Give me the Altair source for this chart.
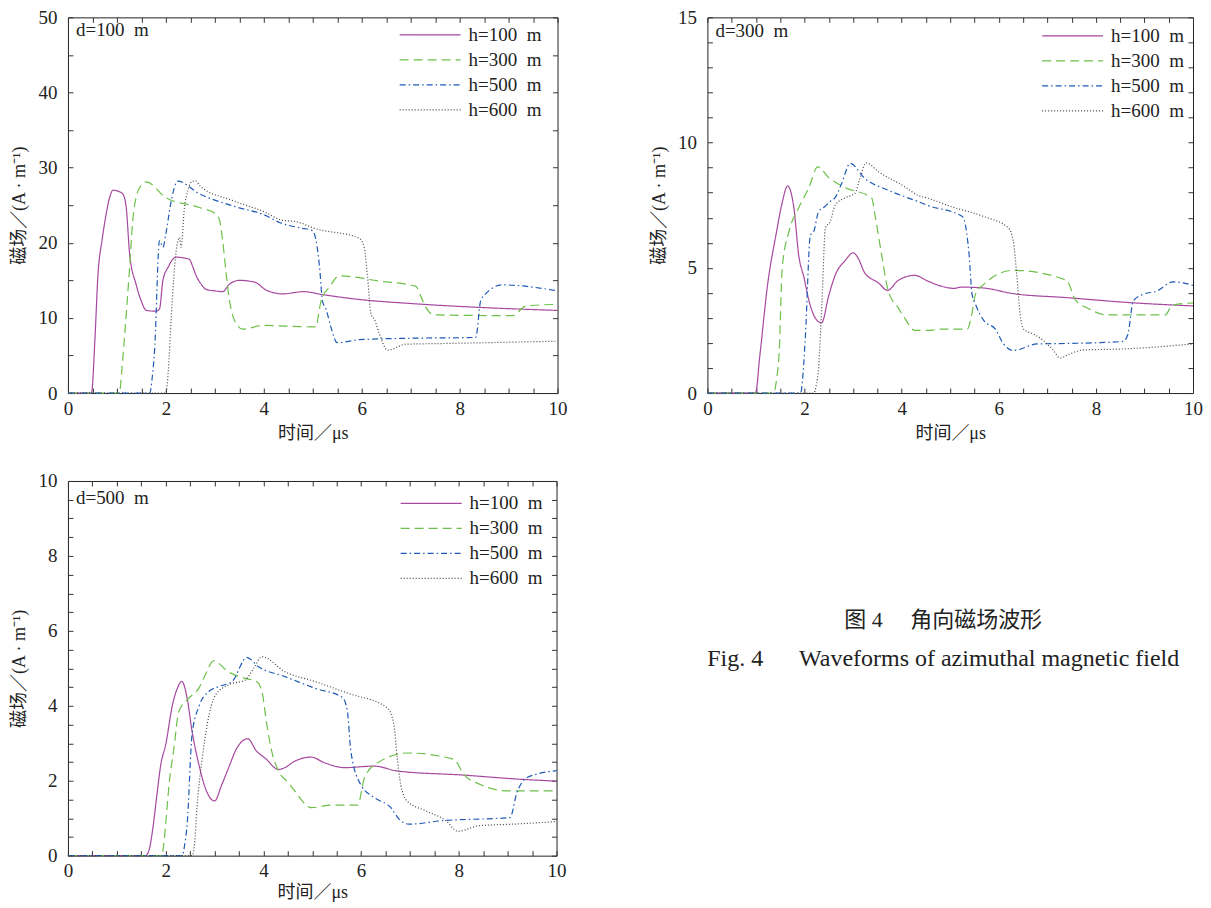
import altair as alt
import pandas as pd

FONT = "Liberation Serif, Noto Sans CJK SC"
SERIES = ["h=100\u2002m", "h=300\u2002m", "h=500\u2002m", "h=600\u2002m"]
COLORS = ["#a6489f", "#6cc04a", "#1f5bb5", "#444444"]
DASHES = [[1, 0], [9, 5], [6, 3, 1.5, 3], [1, 2]]

# ---------- d = 100 m ----------
t_d100_h100 = [0, 0.48, 0.55, 0.61, 0.7, 0.78, 0.85, 0.92, 1.05, 1.12, 1.19, 1.26, 1.39, 1.5, 1.6, 1.8, 1.87, 1.94, 2.05, 2.21, 2.35, 2.48, 2.55, 2.62, 2.72, 2.82, 3.0, 3.16, 3.3, 3.5, 3.7, 3.84, 4.05, 4.39, 4.66, 4.8, 5.2, 5.89, 7.04, 8.4, 10]
v_d100_h100 = [0, 0, 7, 15.4, 20.5, 23.8, 26.0, 27.0, 26.8, 26.5, 24.7, 18.5, 14.5, 12.2, 11.0, 10.9, 11.2, 15.0, 16.8, 18.1, 18.0, 17.8, 16.8, 15.6, 14.5, 13.8, 13.6, 13.5, 14.5, 15.0, 14.9, 14.7, 13.7, 13.2, 13.4, 13.5, 13.1, 12.5, 11.9, 11.4, 11.0]
t_d100_h300 = [0, 1.05, 1.1, 1.16, 1.26, 1.33, 1.46, 1.6, 2.0, 2.69, 3.03, 3.1, 3.16, 3.23, 3.3, 3.44, 3.57, 3.98, 4.73, 5.07, 5.12, 5.17, 5.34, 5.54, 6.36, 7.11, 7.2, 7.31, 7.48, 9.08, 9.36, 10]
v_d100_h300 = [0, 0, 3, 7.9, 16.7, 23.4, 27.3, 28.1, 26.0, 24.7, 23.8, 22.9, 20.3, 16, 12.3, 9.2, 8.5, 9.0, 8.85, 8.8, 10.5, 12.3, 14.1, 15.6, 14.9, 14.2, 13.0, 11.4, 10.4, 10.3, 11.6, 11.8]
t_d100_h500 = [0, 1.67, 1.72, 1.77, 1.87, 1.94, 2.0, 2.11, 2.24, 2.69, 3.37, 4.05, 4.32, 4.73, 5.0, 5.07, 5.14, 5.2, 5.27, 5.37, 5.5, 5.95, 7.04, 8.33, 8.43, 8.53, 8.87, 10]
v_d100_h500 = [0, 0, 2, 5.7, 20.3, 19.4, 21.2, 25.6, 28.2, 26.5, 24.9, 23.6, 22.7, 22.0, 21.6, 20.2, 16.7, 12.2, 11.2, 8.8, 6.7, 7.1, 7.3, 7.4, 12.3, 13.2, 14.4, 13.6]
t_d100_h600 = [0, 2.0, 2.05, 2.11, 2.21, 2.28, 2.31, 2.38, 2.45, 2.55, 2.62, 2.69, 3.37, 4.05, 4.32, 4.73, 5.0, 5.95, 6.05, 6.12, 6.19, 6.26, 6.36, 6.53, 6.9, 7.72, 10]
v_d100_h600 = [0, 0, 3, 10.1, 18.9, 20.7, 19.4, 24.7, 27, 28.2, 28.2, 27.6, 25.6, 24.0, 23.1, 22.7, 22.0, 20.6, 19.4, 15.4, 10.5, 9.8, 7.9, 5.7, 6.5, 6.6, 6.9]

# ---------- d = 300 m ----------
t_d300_h100 = [0, 0.99, 1.08, 1.24, 1.41, 1.54, 1.65, 1.78, 1.88, 1.99, 2.09, 2.22, 2.35, 2.5, 2.63, 2.84, 3.0, 3.1, 3.24, 3.52, 3.71, 3.93, 4.27, 4.54, 4.81, 5.08, 5.22, 5.66, 6.3, 7.4, 8.7, 10]
v_d300_h100 = [0, 0, 1.5, 4.34, 6.3, 7.6, 8.27, 7.4, 5.5, 4.6, 3.7, 3.0, 2.8, 3.9, 4.7, 5.3, 5.6, 5.4, 4.8, 4.4, 4.1, 4.5, 4.7, 4.47, 4.27, 4.18, 4.23, 4.2, 3.97, 3.81, 3.61, 3.48]
t_d300_h300 = [0, 1.37, 1.42, 1.48, 1.54, 1.68, 1.88, 2.09, 2.27, 2.5, 2.84, 3.38, 3.46, 3.59, 3.72, 3.93, 4.06, 4.27, 4.54, 4.81, 5.35, 5.45, 5.52, 5.69, 6.3, 7.4, 7.57, 7.87, 8.21, 9.43, 9.57, 10]
v_d300_h300 = [0, 0, 0.5, 1.7, 5.0, 6.45, 7.4, 8.2, 9.03, 8.6, 8.2, 7.8, 7.0, 5.5, 4.1, 3.4, 3.0, 2.5, 2.5, 2.55, 2.55, 3.2, 3.94, 4.34, 4.9, 4.5, 3.74, 3.35, 3.12, 3.12, 3.5, 3.6]
t_d300_h500 = [0, 1.92, 1.97, 2.02, 2.12, 2.19, 2.29, 2.39, 2.53, 2.63, 2.77, 2.94, 3.24, 3.72, 4.33, 4.54, 5.25, 5.29, 5.39, 5.45, 5.52, 5.69, 5.93, 6.1, 6.3, 6.79, 7.4, 8.56, 8.66, 8.77, 8.97, 9.25, 9.59, 10]
v_d300_h500 = [0, 0, 0.8, 2.35, 6.3, 6.45, 7.25, 7.4, 7.65, 7.8, 8.4, 9.17, 8.57, 8.1, 7.65, 7.49, 7.05, 6.9, 5.5, 3.94, 3.55, 2.9, 2.55, 1.96, 1.7, 1.96, 1.98, 2.06, 2.35, 3.68, 3.94, 4.07, 4.44, 4.3]
t_d300_h600 = [0, 2.19, 2.24, 2.29, 2.36, 2.43, 2.53, 2.63, 2.84, 3.04, 3.14, 3.27, 3.52, 4.06, 4.33, 4.54, 5.01, 5.69, 6.2, 6.3, 6.37, 6.44, 6.51, 6.72, 6.92, 7.13, 7.26, 7.46, 7.74, 8.56, 10]
v_d300_h600 = [0, 0, 0.3, 1.03, 3.68, 6.6, 6.85, 7.5, 7.8, 7.98, 8.57, 9.19, 8.84, 8.24, 7.9, 7.78, 7.45, 7.05, 6.59, 6.06, 4.74, 3.15, 2.55, 2.35, 2.09, 1.69, 1.4, 1.56, 1.72, 1.76, 1.96]

# ---------- d = 500 m ----------
t_d500_h100 = [0, 1.59, 1.66, 1.73, 1.83, 1.9, 2.0, 2.14, 2.24, 2.33, 2.44, 2.54, 2.68, 2.81, 3.0, 3.15, 3.29, 3.46, 3.68, 3.86, 4.03, 4.31, 4.44, 4.64, 4.98, 5.25, 5.66, 6.27, 6.74, 8.1, 9.25, 10]
v_d500_h100 = [0, 0, 0.15, 0.66, 1.73, 2.43, 2.96, 4.03, 4.47, 4.65, 4.2, 3.32, 2.43, 1.81, 1.46, 1.9, 2.35, 2.88, 3.12, 2.79, 2.61, 2.3, 2.35, 2.52, 2.63, 2.48, 2.35, 2.39, 2.26, 2.15, 2.04, 1.99]
t_d500_h300 = [0, 1.92, 1.96, 2.0, 2.07, 2.17, 2.27, 2.47, 2.68, 2.81, 2.98, 3.29, 3.63, 3.86, 3.97, 4.07, 4.17, 4.31, 4.51, 4.64, 4.98, 5.39, 5.93, 6.07, 6.34, 6.95, 7.9, 8.1, 8.44, 8.98, 10]
v_d500_h300 = [0, 0, 0.3, 0.84, 1.9, 2.88, 3.85, 4.2, 4.47, 4.82, 5.2, 4.9, 4.73, 4.65, 4.38, 3.5, 2.79, 2.26, 1.95, 1.73, 1.28, 1.35, 1.35, 2.08, 2.48, 2.74, 2.57, 2.17, 1.9, 1.73, 1.73]
t_d500_h500 = [0, 2.34, 2.39, 2.44, 2.54, 2.68, 2.88, 3.08, 3.36, 3.66, 3.9, 4.44, 5.05, 5.62, 5.72, 5.79, 5.99, 6.27, 6.61, 6.78, 6.98, 7.63, 9.05, 9.18, 9.39, 10]
v_d500_h500 = [0, 0, 0.3, 0.84, 3.23, 3.98, 4.38, 4.51, 4.65, 5.29, 5.04, 4.78, 4.47, 4.22, 3.85, 2.79, 1.9, 1.55, 1.28, 0.97, 0.84, 0.93, 1.02, 1.64, 2.08, 2.27]
t_d500_h600 = [0, 2.54, 2.59, 2.64, 2.75, 2.85, 3.02, 3.29, 3.63, 3.8, 3.97, 4.44, 5.05, 5.72, 6.54, 6.67, 6.74, 6.81, 6.94, 7.34, 7.74, 7.98, 8.42, 9.1, 10]
v_d500_h600 = [0, 0, 0.3, 1.28, 2.61, 3.5, 4.29, 4.56, 4.69, 5.0, 5.31, 4.91, 4.65, 4.34, 3.94, 3.5, 2.61, 1.9, 1.46, 1.19, 0.93, 0.65, 0.8, 0.84, 0.91]

X_TITLE = "时间／μs"
Y_TITLE = "磁场／(A · m⁻¹)"
CAP_CN = "图 4\u2003 角向磁场波形"
CAP_EN = "Fig. 4\u2003\u2002Waveforms of azimuthal magnetic field"


def panel(data, d_label, ymax, ymajor, yminor, w, h, yext, ytpad, xext, xtpad, legx, legy, laby):
    rows = []
    for s, (ts, vs) in zip(SERIES, data):
        for t, v in zip(ts, vs):
            rows.append({"t": t, "v": v, "series": s})
    df = pd.DataFrame(rows)
    xvals = [i * 0.5 for i in range(21)]
    n = int(round(ymax / yminor))
    yvals = [round(i * yminor, 6) for i in range(n + 1)]
    xs = alt.Scale(domain=[0, 10], nice=False, zero=False)
    ys = alt.Scale(domain=[0, ymax], nice=False)
    leg = alt.Legend(title=None, orient="none", legendX=legx, legendY=legy,
                     symbolType="stroke", symbolSize=3721, symbolStrokeWidth=1.3,
                     clipHeight=19, labelFontSize=19, labelFont=FONT, labelColor="#222",
                     rowPadding=5, labelOffset=7, padding=0)
    lines = alt.Chart(df).mark_line(strokeWidth=1.2, interpolate="monotone").encode(
        x=alt.X("t:Q", scale=xs, axis=alt.Axis(
            orient="bottom", values=xvals, offset=-5, tickSize=5, domain=False, grid=False,
            labelFlush=False, labelOverlap=False, labelPadding=6, format="~g",
            labelExpr="datum.value % 2 == 0 ? datum.label : ''",
            minExtent=xext, maxExtent=xext,
            title=X_TITLE, titlePadding=xtpad)),
        y=alt.Y("v:Q", scale=ys, axis=alt.Axis(
            orient="left", values=yvals, offset=-5, tickSize=5, domain=False, grid=False,
            labelFlush=False, labelOverlap=False, labelPadding=11, format="~g",
            labelExpr=f"datum.value % {ymajor} == 0 ? datum.label : ''",
            minExtent=yext, maxExtent=yext,
            title=Y_TITLE, titlePadding=ytpad)),
        color=alt.Color("series:N", scale=alt.Scale(domain=SERIES, range=COLORS), legend=leg),
        strokeDash=alt.StrokeDash("series:N", scale=alt.Scale(domain=SERIES, range=DASHES), legend=leg),
    )
    frame = alt.Chart(df).mark_line(opacity=0).encode(
        x=alt.X("t:Q", scale=xs, axis=alt.Axis(
            orient="top", values=xvals, offset=-5, tickSize=5, domain=False, grid=False,
            labels=False, title=None, minExtent=0, maxExtent=0)),
        y=alt.Y("v:Q", scale=ys, axis=alt.Axis(
            orient="right", values=yvals, offset=-5, tickSize=5, domain=False, grid=False,
            labels=False, title=None, minExtent=0, maxExtent=0)),
        detail="series:N",
    )
    lab = alt.Chart(pd.DataFrame({"lab": [d_label]})).mark_text(
        align="left", baseline="middle", fontSize=19, font=FONT, color="#222"
    ).encode(x=alt.value(8), y=alt.value(laby), text="lab:N")
    return alt.layer(lines, frame, lab).resolve_axis(
        x="independent", y="independent").properties(width=w, height=h)


p1 = panel([(t_d100_h100, v_d100_h100), (t_d100_h300, v_d100_h300),
            (t_d100_h500, v_d100_h500), (t_d100_h600, v_d100_h600)],
           "d=100\u2002m", 50, 10, 5, 490, 376,
           yext=38, ytpad=6, xext=30, xtpad=6, legx=331, legy=8, laby=13)
p2 = panel([(t_d300_h100, v_d300_h100), (t_d300_h300, v_d300_h300),
            (t_d300_h500, v_d300_h500), (t_d300_h600, v_d300_h600)],
           "d=300\u2002m", 15, 5, 1, 486, 376,
           yext=38, ytpad=6, xext=30, xtpad=6, legx=334, legy=9, laby=14)
p3 = panel([(t_d500_h100, v_d500_h100), (t_d500_h300, v_d500_h300),
            (t_d500_h500, v_d500_h500), (t_d500_h600, v_d500_h600)],
           "d=500\u2002m", 10, 2, 0.5, 489, 375,
           yext=38, ytpad=6, xext=30, xtpad=3, legx=332, legy=13, laby=17)

cap = alt.Chart(pd.DataFrame({"cn": [CAP_CN], "en": [CAP_EN]}))
cn = cap.mark_text(fontSize=22, font=FONT, align="center", baseline="middle", color="#222").encode(
    x=alt.value(366), y=alt.value(139), text="cn:N")
en = cap.mark_text(fontSize=24, font=FONT, align="center", baseline="middle", color="#222").encode(
    x=alt.value(366), y=alt.value(178), text="en:N")
caption = alt.layer(cn, en).properties(width=560, height=375,
                                       view=alt.ViewBackground(stroke="transparent"))

top = alt.hconcat(p1, p2, spacing=82).resolve_scale(color="independent", strokeDash="independent")
bottom = alt.hconcat(p3, caption, spacing=10).resolve_scale(color="independent", strokeDash="independent")
chart = alt.vconcat(top, bottom, spacing=28).resolve_scale(
    color="independent", strokeDash="independent"
).properties(
    padding={"left": 2, "top": -1, "right": 0, "bottom": 0}
).configure(font=FONT).configure_view(
    stroke="#222", strokeWidth=1
).configure_axis(
    labelFont=FONT, labelFontSize=19, labelColor="#222",
    titleFont=FONT, titleFontSize=18, titleFontWeight="normal", titleColor="#222",
    tickColor="#333", tickWidth=1
)

chart.save("out.html", embed_options={"renderer": "svg", "actions": False})
